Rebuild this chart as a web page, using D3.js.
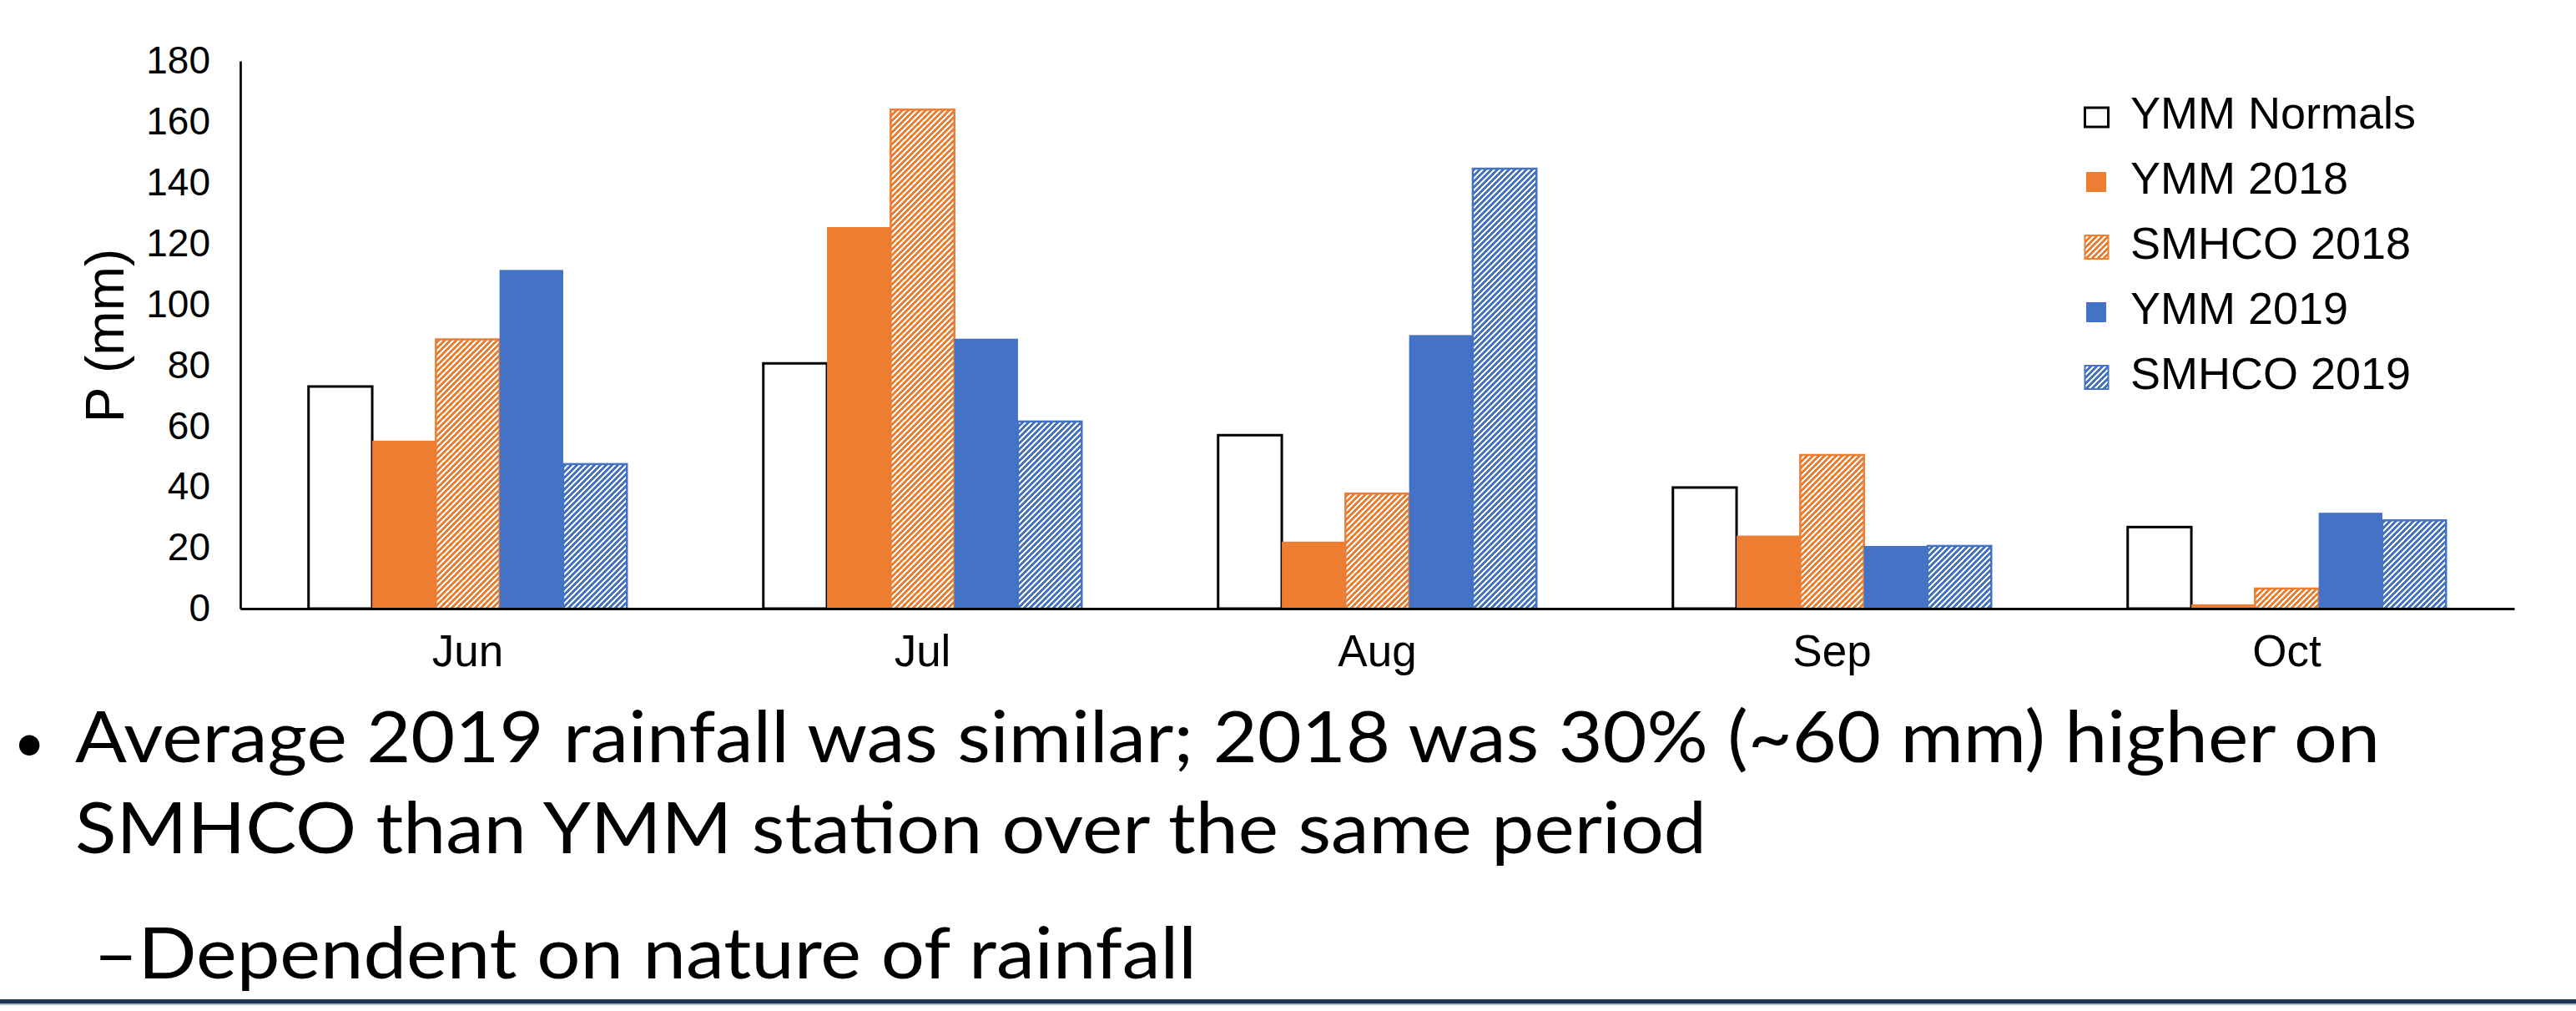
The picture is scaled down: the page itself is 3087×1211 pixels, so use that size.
<!DOCTYPE html>
<html>
<head>
<meta charset="utf-8">
<script src="https://cdn.jsdelivr.net/npm/d3@7"></script>
<style>
  html, body { margin: 0; padding: 0; background: #fff; }
  svg { display: block; }
</style>
</head>
<body>
<svg id="chart"></svg>
<script>
// data (mm of rainfall)
const months = ["Jun", "Jul", "Aug", "Sep", "Oct"];
const seriesNames = ["YMM Normals", "YMM 2018", "SMHCO 2018", "YMM 2019", "SMHCO 2019"];
const ymmNormals = [73.0, 80.6, 57.0, 39.8, 26.8];
const ymm2018 = [55.2, 125.4, 22.0, 24.0, 1.4];
const smhco2018 = [88.5, 164.0, 37.8, 50.5, 6.6];
const ymm2019 = [111.3, 88.7, 89.9, 20.6, 31.5];
const smhco2019 = [47.5, 61.5, 144.6, 20.6, 29.0];
const yTicks = [0, 20, 40, 60, 80, 100, 120, 140, 160, 180];
const yLabel = "P (mm)";
const bulletLines = [
  "Average 2019 rainfall was similar; 2018 was 30% (~60 mm) higher on",
  "SMHCO than YMM station over the same period"
];
const subBullet = "\u2013Dependent on nature of rainfall";

const W = 3087, H = 1211;
const orange = "#ED7D31", blue = "#4472C4";

// how each series is painted: fill kind + colour
const seriesStyle = [
  { kind: "outline", color: "#000" },
  { kind: "solid", color: orange },
  { kind: "hatch", color: orange },
  { kind: "solid", color: blue },
  { kind: "hatch", color: blue }
];

const svg = d3.select("#chart").attr("width", W).attr("height", H);
svg.append("rect").attr("width", W).attr("height", H).attr("fill", "#fff");

// wide upward diagonal patterns for the SMHCO bars (pixel stepped, like office hatching)
const defs = svg.append("defs");
const tile = 7;
seriesStyle.forEach((s, i) => {
  if (s.kind !== "hatch") return;
  const p = defs.append("pattern")
    .attr("id", `hatch${i}`)
    .attr("patternUnits", "userSpaceOnUse")
    .attr("width", tile).attr("height", tile);
  p.append("rect").attr("width", tile).attr("height", tile).attr("fill", "#fff");
  let d = "";
  for (let r = 0; r < tile; r++) {
    for (let c = 0; c < tile; c++) {
      if ((c + r) % tile < 4) d += `M${c},${r}h1v1h-1z`;
    }
  }
  p.append("path").attr("d", d).attr("fill", s.color).attr("shape-rendering", "crispEdges");
});

const margin = { left: 288, right: 3013, top: 73, bottom: 729 };

const x = d3.scaleBand()
  .domain(months)
  .range([margin.left, margin.right])
  .paddingInner(0.3)
  .paddingOuter(0.15);

const xInner = d3.scaleBand()
  .domain(seriesNames)
  .range([0, x.bandwidth()]);

const y = d3.scaleLinear().domain([0, 180]).range([margin.bottom, margin.top]);

// rows for the join
const allSeries = [ymmNormals, ymm2018, smhco2018, ymm2019, smhco2019];
const rows = [];
months.forEach((m, mi) => {
  seriesNames.forEach((s, si) => {
    rows.push({ month: m, series: s, si: si, value: allSeries[si][mi] });
  });
});

const fillFor = si => {
  const s = seriesStyle[si];
  if (s.kind === "outline") return "#fff";
  if (s.kind === "hatch") return `url(#hatch${si})`;
  return s.color;
};

// bars
const barsG = svg.append("g");
barsG.selectAll("rect")
  .data(rows)
  .join("rect")
  .attr("x", d => x(d.month) + xInner(d.series))
  .attr("y", d => y(d.value))
  .attr("width", xInner.bandwidth())
  .attr("height", d => y(0) - y(d.value))
  .attr("fill", d => fillFor(d.si))
  .attr("stroke", d => seriesStyle[d.si].kind === "solid" ? "none" : seriesStyle[d.si].color)
  .attr("stroke-width", d => seriesStyle[d.si].kind === "outline" ? 3 : 2.5);

// y axis: line + labels, no ticks
const yAxis = d3.axisLeft(y).tickValues(yTicks).tickSize(0).tickPadding(36);
const yAxisG = svg.append("g").attr("transform", `translate(${margin.left},0)`).call(yAxis);
yAxisG.select(".domain").attr("stroke", "#000").attr("stroke-width", 2.7);
yAxisG.selectAll("text")
  .attr("font-family", "'Liberation Sans', Arial, sans-serif")
  .attr("font-size", 46)
  .attr("fill", "#000")
  .attr("dy", "0.32em");

// x axis
const xAxis = d3.axisBottom(x).tickSize(0).tickPadding(31);
const xAxisG = svg.append("g").attr("transform", `translate(0,${margin.bottom})`).call(xAxis);
xAxisG.select(".domain").attr("stroke", "#000").attr("stroke-width", 3.2);
xAxisG.selectAll("text")
  .attr("font-family", "'Liberation Sans', Arial, sans-serif")
  .attr("font-size", 53)
  .attr("fill", "#000")
  .attr("dy", "0.71em");

// y axis title
svg.append("text")
  .attr("transform", "translate(148,402) rotate(-90)")
  .attr("text-anchor", "middle")
  .attr("font-family", "'Liberation Sans', Arial, sans-serif")
  .attr("font-size", 64)
  .text(yLabel);

// legend
const legend = svg.append("g").attr("transform", "translate(2497,154)");
const legendRows = legend.selectAll("g")
  .data(seriesNames)
  .join("g")
  .attr("transform", (d, i) => `translate(0,${i * 78})`);

legendRows.append("rect")
  .attr("x", (d, i) => seriesStyle[i].kind === "solid" ? 3 : 1.5)
  .attr("y", (d, i) => seriesStyle[i].kind === "solid" ? -26 : (seriesStyle[i].kind === "outline" ? -25 : -28))
  .attr("width", (d, i) => seriesStyle[i].kind === "solid" ? 24 : 28)
  .attr("height", (d, i) => seriesStyle[i].kind === "solid" ? 24 : (seriesStyle[i].kind === "outline" ? 23 : 28))
  .attr("fill", (d, i) => fillFor(i))
  .attr("stroke", (d, i) => seriesStyle[i].kind === "solid" ? "none" : seriesStyle[i].color)
  .attr("stroke-width", (d, i) => seriesStyle[i].kind === "outline" ? 3 : 2);

legendRows.append("text")
  .attr("x", 56)
  .attr("y", 0)
  .attr("font-family", "'Liberation Sans', Arial, sans-serif")
  .attr("font-size", 54)
  .attr("fill", "#000")
  .text(d => d);

// slide text under the chart
const bodyFont = "Lato, 'Open Sans', sans-serif";
const lineWidths = [2762, 1955];
const lineBaselines = [913, 1022];

svg.append("text")
  .attr("x", 16)
  .attr("y", 912)
  .attr("font-family", bodyFont)
  .attr("font-size", 66)
  .text("\u2022");

svg.selectAll("text.bullet")
  .data(bulletLines)
  .join("text")
  .attr("class", "bullet")
  .attr("x", 90)
  .attr("y", (d, i) => lineBaselines[i])
  .attr("textLength", (d, i) => lineWidths[i])
  .attr("lengthAdjust", "spacingAndGlyphs")
  .attr("font-family", bodyFont)
  .attr("font-size", 86)
  .attr("fill", "#000")
  .text(d => d);

svg.append("text")
  .attr("x", 112)
  .attr("y", 1172)
  .attr("textLength", 1322)
  .attr("lengthAdjust", "spacingAndGlyphs")
  .attr("font-family", bodyFont)
  .attr("font-size", 86)
  .attr("fill", "#000")
  .text(subBullet);

// footer rule
svg.append("rect").attr("x", 0).attr("y", 1197).attr("width", W).attr("height", 5).attr("fill", "#1F3350");
svg.append("rect").attr("x", 0).attr("y", 1202).attr("width", W).attr("height", 2).attr("fill", "#AEB8C6");
</script>
</body>
</html>
